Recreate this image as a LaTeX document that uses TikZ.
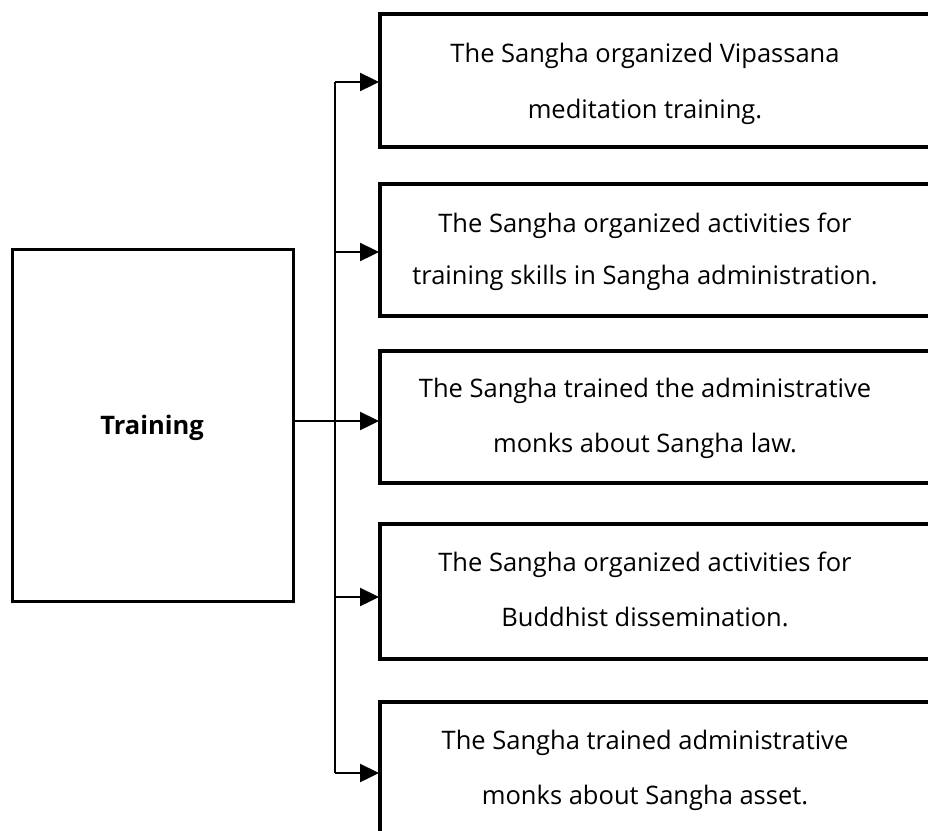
\documentclass[tikz,border=0pt]{standalone}
\usepackage{fontspec}
\setmainfont{Open Sans}
\usetikzlibrary{arrows.meta}
\tikzset{
  bigbox/.style={draw=black, line width=3.2pt, minimum width=600pt, anchor=north west, inner sep=0pt, outer sep=0pt},
  mainbox/.style={draw=black, line width=3pt, minimum width=281pt, minimum height=352pt, inner sep=0pt, outer sep=0pt},
  txt/.style={anchor=base, inner sep=0pt, font=\fontsize{25.5pt}{30pt}\selectfont},
  conn/.style={line width=2.4pt},
  arr/.style={line width=2.4pt, -{Triangle[length=19pt,width=18pt]}, shorten >=1pt},
  trunk/.style={line width=1.8pt}
}
\begin{document}
\begin{tikzpicture}[x=1pt,y=-1pt]
\useasboundingbox (0,0) rectangle (928,830);
\clip (0,0) rectangle (928,830);
% main box
\node[mainbox] (train) at (152.5,425) {};
\node[txt, font=\fontsize{25.5pt}{30pt}\selectfont\bfseries] (traintxt) at (152,434) {Training};
% right boxes
\node[bigbox, minimum height=133pt] (b1) at (380,14) {};
\node[bigbox, minimum height=132pt] (b2) at (380,184) {};
\node[bigbox, minimum height=132pt] (b3) at (380,351) {};
\node[bigbox, minimum height=135pt] (b4) at (380,524) {};
\node[bigbox, minimum height=142pt] (b5) at (380,702) {};
% texts
\node[txt] (t1a) at (645,62) {The Sangha organized Vipassana};
\node[txt] (t1b) at (645,118) {meditation training.};
\node[txt] (t2a) at (645,232) {The Sangha organized activities for};
\node[txt] (t2b) at (645,284) {training skills in Sangha administration.};
\node[txt] (t3a) at (645,397) {The Sangha trained the administrative};
\node[txt] (t3b) at (645,452) {monks about Sangha law.};
\node[txt] (t4a) at (645,571) {The Sangha organized activities for};
\node[txt] (t4b) at (645,626) {Buddhist dissemination.};
\node[txt] (t5a) at (645,749) {The Sangha trained administrative};
\node[txt] (t5b) at (645,804) {monks about Sangha asset.};
% connectors
\coordinate (top) at (335,82);
\coordinate (j2) at (335,252);
\coordinate (hub) at (335,421);
\coordinate (j4) at (335,597);
\coordinate (bot) at (335,773);
\draw[trunk] (top) -- (bot);
\draw[conn] (train.east |- hub) -- (hub);
\draw[arr] (top) -- (b1.west |- top);
\draw[arr] (j2) -- (b2.west |- j2);
\draw[arr] (hub) -- (b3.west |- hub);
\draw[arr] (j4) -- (b4.west |- j4);
\draw[arr] (bot) -- (b5.west |- bot);
\end{tikzpicture}
\end{document}
